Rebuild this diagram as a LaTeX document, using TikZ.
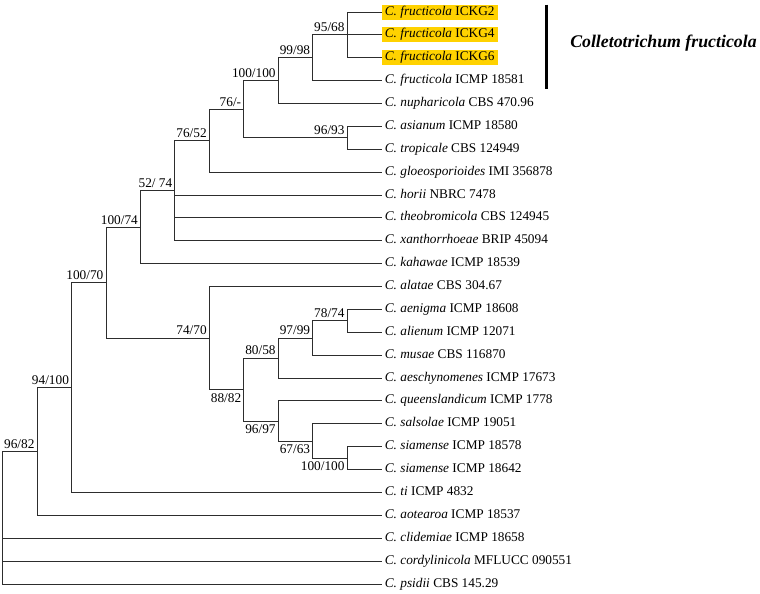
\documentclass[tikz,border=0pt]{standalone}
\usepackage{fontspec}
\setmainfont{Liberation Serif}
\usetikzlibrary{positioning}
\definecolor{hiyellow}{RGB}{255,210,0}
\definecolor{branchgray}{RGB}{45,45,45}
\newcommand{\taxon}[5][]{\node[taxlab,#1] (#2) at (11,#3) {\textit{C.\ #4} #5};}
\newcommand{\suptop}[3]{\node[suplab,above left=3pt and 2.5pt of #2] (#1) {#3};}
\newcommand{\supbot}[3]{\node[suplab,below left=3.5pt and 2.5pt of #2] (#1) {#3};}

\begin{document}
\begin{tikzpicture}[x=34.45pt,y=-22.88pt,font=\fontsize{13.3}{15}\selectfont,
  taxlab/.style={anchor=west,inner xsep=3pt,inner ysep=1.5pt,text height=9pt,text depth=3pt},
  hilite/.style={fill=hiyellow},
  suplab/.style={inner sep=0pt,text height=8.8pt,text depth=0pt},
  branch/.style={draw=branchgray,line width=1pt},
  cladebar/.style={line width=3pt}]
\path[use as bounding box] (-0.0784,-0.5245) rectangle (21.982,25.393);
\coordinate (root) at (0,19.207);
\coordinate (gG) at (1,19.207);
\coordinate (gF) at (2,16.414);
\coordinate (gE) at (3,11.828);
\coordinate (gD) at (4,9.406);
\coordinate (gC) at (5,7.8125);
\coordinate (gB) at (6,5.625);
\coordinate (gA) at (7,4.25);
\coordinate (fru2) at (8,3);
\coordinate (fru) at (9,2);
\coordinate (ickg) at (10,1);
\coordinate (asi) at (10,5.5);
\coordinate (mB) at (6,14.25);
\coordinate (mA) at (7,16.5);
\coordinate (aes) at (8,15.125);
\coordinate (mus) at (9,14.25);
\coordinate (aen) at (10,13.5);
\coordinate (que) at (8,17.875);
\coordinate (sal) at (9,18.75);
\coordinate (sia) at (10,19.5);
\taxon[hilite]{t0}{0}{fructicola}{ICKG2}
\taxon[hilite]{t1}{1}{fructicola}{ICKG4}
\taxon[hilite]{t2}{2}{fructicola}{ICKG6}
\taxon{t3}{3}{fructicola}{ICMP 18581}
\taxon{t4}{4}{nupharicola}{CBS 470.96}
\taxon{t5}{5}{asianum}{ICMP 18580}
\taxon{t6}{6}{tropicale}{CBS 124949}
\taxon{t7}{7}{gloeosporioides}{IMI 356878}
\taxon{t8}{8}{horii}{NBRC 7478}
\taxon{t9}{9}{theobromicola}{CBS 124945}
\taxon{t10}{10}{xanthorrhoeae}{BRIP 45094}
\taxon{t11}{11}{kahawae}{ICMP 18539}
\taxon{t12}{12}{alatae}{CBS 304.67}
\taxon{t13}{13}{aenigma}{ICMP 18608}
\taxon{t14}{14}{alienum}{ICMP 12071}
\taxon{t15}{15}{musae}{CBS 116870}
\taxon{t16}{16}{aeschynomenes}{ICMP 17673}
\taxon{t17}{17}{queenslandicum}{ICMP 1778}
\taxon{t18}{18}{salsolae}{ICMP 19051}
\taxon{t19}{19}{siamense}{ICMP 18578}
\taxon{t20}{20}{siamense}{ICMP 18642}
\taxon{t21}{21}{ti}{ICMP 4832}
\taxon{t22}{22}{aotearoa}{ICMP 18537}
\taxon{t23}{23}{clidemiae}{ICMP 18658}
\taxon{t24}{24}{cordylinicola}{MFLUCC 090551}
\taxon{t25}{25}{psidii}{CBS 145.29}
\draw[branch] (ickg) |- (t0.west) (ickg) -- (t1.west) (ickg) |- (t2.west);
\draw[branch] (fru) |- (ickg) (fru) |- (t3.west);
\draw[branch] (fru2) |- (fru) (fru2) |- (t4.west);
\draw[branch] (asi) |- (t5.west) (asi) |- (t6.west);
\draw[branch] (gA) |- (fru2) (gA) |- (asi);
\draw[branch] (gB) |- (gA) (gB) |- (t7.west);
\draw[branch] (gC) |- (gB) (gC) |- (t8.west) (gC) |- (t9.west) (gC) |- (t10.west);
\draw[branch] (gD) |- (gC) (gD) |- (t11.west);
\draw[branch] (aen) |- (t13.west) (aen) |- (t14.west);
\draw[branch] (mus) |- (aen) (mus) |- (t15.west);
\draw[branch] (aes) |- (mus) (aes) |- (t16.west);
\draw[branch] (sia) |- (t19.west) (sia) |- (t20.west);
\draw[branch] (sal) |- (t18.west) (sal) |- (sia);
\draw[branch] (que) |- (t17.west) (que) |- (sal);
\draw[branch] (mA) |- (aes) (mA) |- (que);
\draw[branch] (mB) |- (t12.west) (mB) |- (mA);
\draw[branch] (gE) |- (gD) (gE) |- (mB);
\draw[branch] (gF) |- (gE) (gF) |- (t21.west);
\draw[branch] (gG) |- (gF) (gG) |- (t22.west);
\draw[branch] (root) -- (gG) (root) |- (t23.west) (root) |- (t24.west) (root) |- (t25.west);
\suptop{s1}{ickg}{95/68}
\suptop{s2}{fru}{99/98}
\suptop{s3}{fru2}{100/100}
\suptop{s4}{gA}{76/-}
\suptop{s5}{asi}{96/93}
\suptop{s6}{gB}{76/52}
\suptop{s7}{gC}{52/ 74}
\suptop{s8}{gD}{100/74}
\suptop{s9}{gE}{100/70}
\suptop{s10}{mB}{74/70}
\suptop{s11}{gF}{94/100}
\suptop{s12}{gG}{96/82}
\suptop{s13}{aen}{78/74}
\suptop{s14}{mus}{97/99}
\suptop{s15}{aes}{80/58}
\supbot{s16}{mA}{88/82}
\supbot{s17}{que}{96/97}
\supbot{s18}{sal}{67/63}
\supbot{s19}{sia}{100/100}
\draw[cladebar] (15.79,-0.32) -- (15.79,3.35);
\node[font=\fontsize{17.8}{20}\selectfont\bfseries\itshape] (clade) at (19.18,1.34) {Colletotrichum fructicola};
\end{tikzpicture}
\end{document}
